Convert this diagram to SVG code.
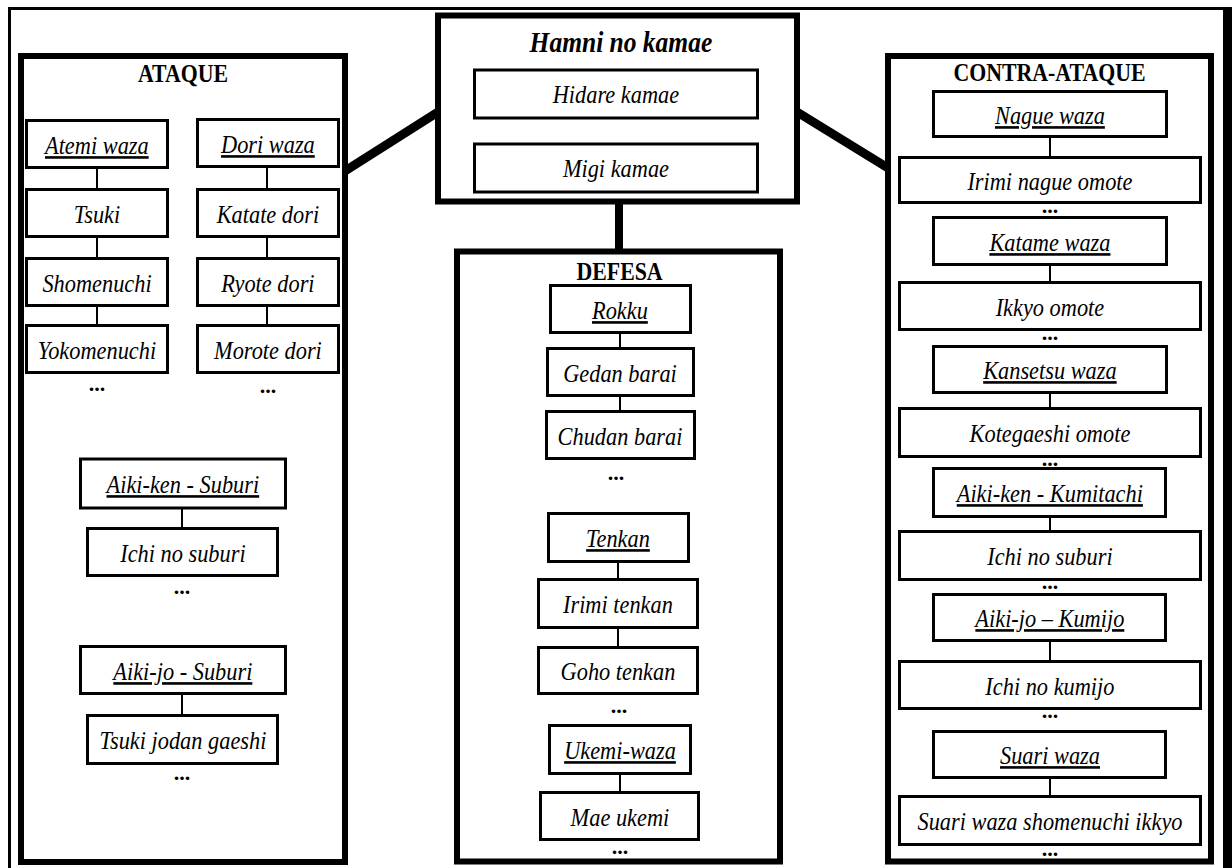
<svg xmlns="http://www.w3.org/2000/svg" width="1232" height="868" viewBox="0 0 1232 868">
<style>
.bg{fill:#fff}
.frame{fill:none;stroke:#000;stroke-width:3}
.c{fill:none;stroke:#000;stroke-width:6}
.b{fill:#fff;stroke:#000;stroke-width:3}
.l{stroke:#000;stroke-width:2;fill:none}
.k{stroke:#000;stroke-width:9;fill:none}
text{font-family:"Liberation Serif","Times New Roman",serif;text-anchor:middle;fill:#000;transform-box:fill-box;transform-origin:center}
.n{font-style:italic;font-size:26px;transform:scaleX(0.86)}
.u{text-decoration:underline}
.t{font-weight:bold;font-size:26px;transform:scaleX(0.84)}
.ht{font-weight:bold;font-style:italic;font-size:30px;transform:scaleX(0.85)}
.d{font-weight:bold;font-size:22px}
</style>
<rect class="bg" x="0" y="0" width="1232" height="868"/>
<path class="frame" d="M9.5,880 V8.5 H1224"/>
<rect x="1223" y="7" width="9" height="861" fill="#000"/>

<g id="hamni">
  <rect class="c" x="438" y="15.5" width="359" height="186"/>
  <text class="ht" x="621" y="52">Hamni no kamae</text>
  <g id="hidare"><rect class="b" x="474.5" y="70" width="283" height="48"/><text class="n" x="616" y="103.5">Hidare kamae</text></g>
  <g id="migi"><rect class="b" x="474.5" y="144" width="283" height="48"/><text class="n" x="616" y="177.5">Migi kamae</text></g>
</g>

<g id="ataque">
  <rect class="c" x="21" y="56" width="324" height="806"/>
  <text class="t" x="183" y="82">ATAQUE</text>
  <g id="atemi"><rect class="b" x="26.5" y="120.5" width="141" height="47"/><text class="n u" x="97" y="154">Atemi waza</text></g>
  <g id="tsuki"><rect class="b" x="26.5" y="189.5" width="141" height="47"/><text class="n" x="97" y="223">Tsuki</text></g>
  <g id="shomenuchi"><rect class="b" x="26.5" y="258.5" width="141" height="47"/><text class="n" x="97" y="292">Shomenuchi</text></g>
  <g id="yokomenuchi"><rect class="b" x="26.5" y="325.5" width="141" height="47"/><text class="n" x="97" y="359">Yokomenuchi</text></g>
  <text class="d" x="97" y="391">...</text>
  <g id="dori"><rect class="b" x="197.5" y="119.5" width="141" height="47"/><text class="n u" x="268" y="153">Dori waza</text></g>
  <g id="katate"><rect class="b" x="197.5" y="189.5" width="141" height="47"/><text class="n" x="268" y="223">Katate dori</text></g>
  <g id="ryote"><rect class="b" x="197.5" y="258.5" width="141" height="47"/><text class="n" x="268" y="292">Ryote dori</text></g>
  <g id="morote"><rect class="b" x="197.5" y="325.5" width="141" height="47"/><text class="n" x="268" y="359">Morote dori</text></g>
  <text class="d" x="268" y="393">...</text>
  <g id="aikiken-suburi"><rect class="b" x="80.5" y="459" width="205" height="49"/><text class="n u" x="183" y="493">Aiki-ken - Suburi</text></g>
  <g id="ichi-suburi-a"><rect class="b" x="87.5" y="528.5" width="190" height="47"/><text class="n" x="183" y="562">Ichi no suburi</text></g>
  <text class="d" x="182" y="594">...</text>
  <g id="aikijo-suburi"><rect class="b" x="80.5" y="646.5" width="205" height="47"/><text class="n u" x="183" y="680">Aiki-jo - Suburi</text></g>
  <g id="tsuki-jodan"><rect class="b" x="87.5" y="715.5" width="190" height="48"/><text class="n" x="183" y="749">Tsuki jodan gaeshi</text></g>
  <text class="d" x="182" y="780">...</text>
</g>

<g id="defesa">
  <rect class="c" x="457" y="251.5" width="323" height="610"/>
  <text class="t" x="619.5" y="280">DEFESA</text>
  <g id="rokku"><rect class="b" x="550.5" y="285.5" width="140" height="47"/><text class="n u" x="620" y="319">Rokku</text></g>
  <g id="gedan"><rect class="b" x="547.5" y="348.5" width="146" height="47"/><text class="n" x="620" y="382">Gedan barai</text></g>
  <g id="chudan"><rect class="b" x="546.5" y="411.5" width="148" height="47"/><text class="n" x="620" y="445">Chudan barai</text></g>
  <text class="d" x="616" y="480">...</text>
  <g id="tenkan"><rect class="b" x="548.5" y="513.5" width="140" height="48"/><text class="n u" x="618" y="547">Tenkan</text></g>
  <g id="irimi-tenkan"><rect class="b" x="538.5" y="579.5" width="159" height="48"/><text class="n" x="618" y="613">Irimi tenkan</text></g>
  <g id="goho-tenkan"><rect class="b" x="538.5" y="647.5" width="159" height="46"/><text class="n" x="618" y="680">Goho tenkan</text></g>
  <text class="d" x="619" y="713">...</text>
  <g id="ukemi"><rect class="b" x="549.5" y="725.5" width="141" height="48"/><text class="n u" x="620" y="759">Ukemi-waza</text></g>
  <g id="mae-ukemi"><rect class="b" x="540.5" y="792.5" width="158" height="47"/><text class="n" x="620" y="826">Mae ukemi</text></g>
  <text class="d" x="620" y="854">...</text>
</g>

<g id="contra-ataque">
  <rect class="c" x="888" y="56" width="323" height="805.5"/>
  <text class="t" x="1049.5" y="81">CONTRA-ATAQUE</text>
  <g id="nague"><rect class="b" x="933.5" y="91.5" width="233" height="45"/><text class="n u" x="1050" y="124">Nague waza</text></g>
  <g id="irimi-nague"><rect class="b" x="899.5" y="157.5" width="301" height="45"/><text class="n" x="1050" y="190">Irimi nague omote</text></g>
  <text class="d" x="1050" y="213">...</text>
  <g id="katame"><rect class="b" x="933.5" y="217.5" width="233" height="47"/><text class="n u" x="1050" y="251">Katame waza</text></g>
  <g id="ikkyo"><rect class="b" x="899.5" y="282.5" width="301" height="47"/><text class="n" x="1050" y="316">Ikkyo omote</text></g>
  <text class="d" x="1050" y="340">...</text>
  <g id="kansetsu"><rect class="b" x="933.5" y="346.5" width="233" height="46"/><text class="n u" x="1050" y="379">Kansetsu waza</text></g>
  <g id="kotegaeshi"><rect class="b" x="899.5" y="408.5" width="301" height="48"/><text class="n" x="1050" y="442">Kotegaeshi omote</text></g>
  <text class="d" x="1050" y="466">...</text>
  <g id="aikiken-kumitachi"><rect class="b" x="933.5" y="468.5" width="232" height="48"/><text class="n u" x="1050" y="502">Aiki-ken - Kumitachi</text></g>
  <g id="ichi-suburi-c"><rect class="b" x="899.5" y="531.5" width="301" height="48"/><text class="n" x="1050" y="565">Ichi no suburi</text></g>
  <text class="d" x="1050" y="589">...</text>
  <g id="aikijo-kumijo"><rect class="b" x="933.5" y="594.5" width="232" height="46"/><text class="n u" x="1050" y="627">Aiki-jo – Kumijo</text></g>
  <g id="ichi-kumijo"><rect class="b" x="899.5" y="661.5" width="301" height="47"/><text class="n" x="1050" y="695">Ichi no kumijo</text></g>
  <text class="d" x="1050" y="718">...</text>
  <g id="suari"><rect class="b" x="933.5" y="731.5" width="232" height="46"/><text class="n u" x="1050" y="764">Suari waza</text></g>
  <g id="suari-ikkyo"><rect class="b" x="899.5" y="796.5" width="301" height="48"/><text class="n" x="1050" y="830">Suari waza shomenuchi ikkyo</text></g>
  <text class="d" x="1050" y="856">...</text>
</g>

<g id="connectors">
  <line class="k" x1="345" y1="171" x2="438" y2="112"/>
  <line class="k" x1="797" y1="112" x2="888" y2="168"/>
  <line x1="619" y1="204" x2="619" y2="249" stroke="#000" stroke-width="8"/>
  <line class="l" x1="97" y1="169" x2="97" y2="188"/>
  <line class="l" x1="97" y1="238" x2="97" y2="257"/>
  <line class="l" x1="97" y1="307" x2="97" y2="324"/>
  <line class="l" x1="267" y1="168" x2="267" y2="188"/>
  <line class="l" x1="267" y1="238" x2="267" y2="257"/>
  <line class="l" x1="267" y1="307" x2="267" y2="324"/>
  <line class="l" x1="182" y1="509" x2="182" y2="527"/>
  <line class="l" x1="182" y1="695" x2="182" y2="714"/>
  <line class="l" x1="620" y1="334" x2="620" y2="347"/>
  <line class="l" x1="620" y1="397" x2="620" y2="410"/>
  <line class="l" x1="618" y1="563" x2="618" y2="578"/>
  <line class="l" x1="618" y1="629" x2="618" y2="646"/>
  <line class="l" x1="620" y1="775" x2="620" y2="791"/>
  <line class="l" x1="1050" y1="138" x2="1050" y2="156"/>
  <line class="l" x1="1050" y1="266" x2="1050" y2="281"/>
  <line class="l" x1="1050" y1="394" x2="1050" y2="407"/>
  <line class="l" x1="1050" y1="518" x2="1050" y2="530"/>
  <line class="l" x1="1050" y1="642" x2="1050" y2="660"/>
  <line class="l" x1="1050" y1="779" x2="1050" y2="795"/>
</g>
</svg>
